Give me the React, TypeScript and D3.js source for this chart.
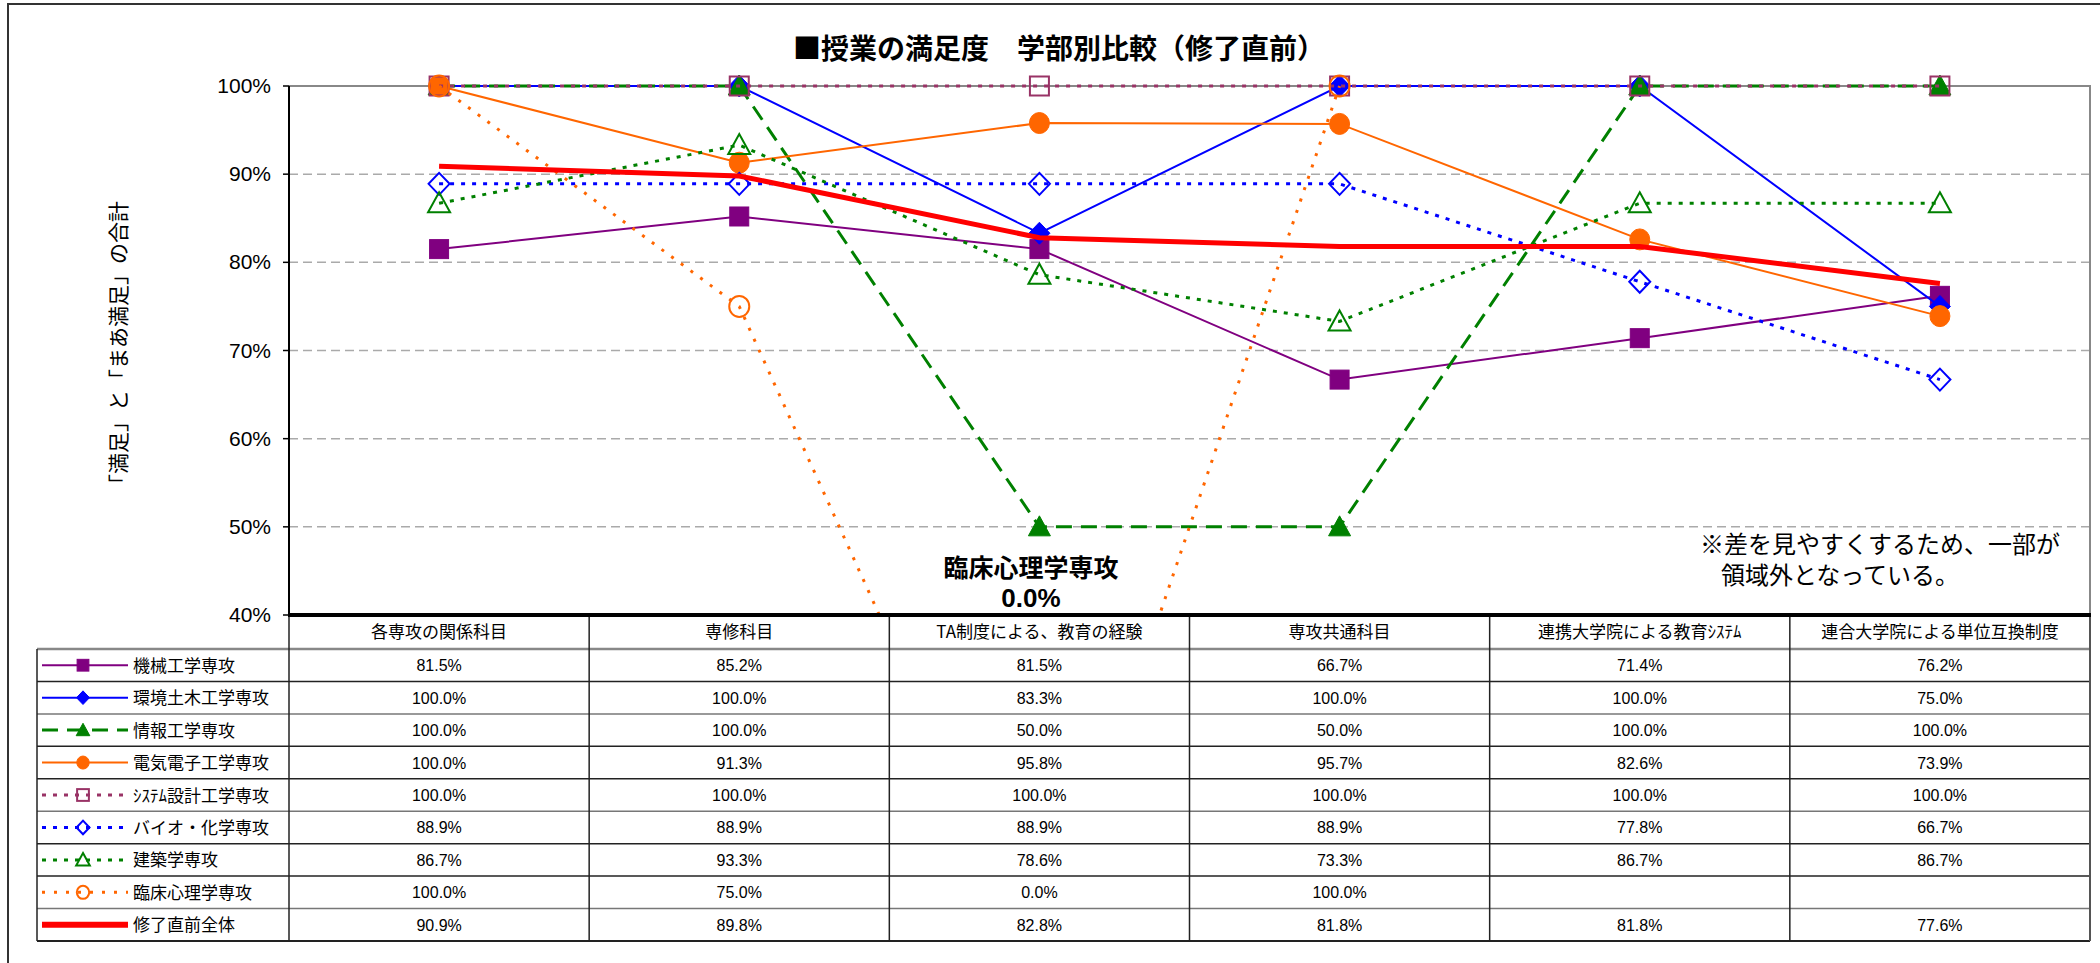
import React from 'react';
import * as d3 from 'd3';

// データ（表から読み取り）
const categories = [
  '各専攻の関係科目',
  '専修科目',
  'TA制度による、教育の経験',
  '専攻共通科目',
  '連携大学院による教育ｼｽﾃﾑ',
  '連合大学院による単位互換制度',
];
const seriesNames = [
  '機械工学専攻',
  '環境土木工学専攻',
  '情報工学専攻',
  '電気電子工学専攻',
  'ｼｽﾃﾑ設計工学専攻',
  'バイオ・化学専攻',
  '建築学専攻',
  '臨床心理学専攻',
  '修了直前全体',
];
const kikai = [81.5, 85.2, 81.5, 66.7, 71.4, 76.2];
const kankyo = [100, 100, 83.3, 100, 100, 75.0];
const joho = [100, 100, 50.0, 50.0, 100, 100];
const denki = [100, 91.3, 95.8, 95.7, 82.6, 73.9];
const system = [100, 100, 100, 100, 100, 100];
const bio = [88.9, 88.9, 88.9, 88.9, 77.8, 66.7];
const kenchiku = [86.7, 93.3, 78.6, 73.3, 86.7, 86.7];
const rinsho = [100, 75.0, 0.0, 100, null, null];
const zentai = [90.9, 89.8, 82.8, 81.8, 81.8, 77.6];
const yTicks = [0.4, 0.5, 0.6, 0.7, 0.8, 0.9, 1.0];

const seriesValues = [kikai, kankyo, joho, denki, system, bio, kenchiku, rinsho, zentai];

// 見た目の設定
const styles = [
  { color: '#800080', width: 2, dash: null, shape: 'square', filled: true },
  { color: '#0000FF', width: 2, dash: null, shape: 'diamond', filled: true },
  { color: '#008000', width: 3, dash: '16,9', shape: 'triangle', filled: true },
  { color: '#FF6600', width: 2, dash: null, shape: 'circle', filled: true },
  { color: '#993366', width: 3, dash: '4,7', shape: 'square', filled: false },
  { color: '#0000FF', width: 3, dash: '4,7', shape: 'diamond', filled: false },
  { color: '#008000', width: 3, dash: '4,7', shape: 'triangle', filled: false },
  { color: '#FF6600', width: 3, dash: '3,9', shape: 'circle', filled: false },
  { color: '#FF0000', width: 5, dash: null, shape: null, filled: false },
];

const W = 2100;
const H = 963;
const left = 289;
const right = 2090;
const top = 86;
const bottom = 615;
const legendLeft = 37;
const headerBottom = 649;
const tableBottom = 941;
const rowH = (tableBottom - headerBottom) / seriesNames.length;

const jp = "'Noto Sans CJK JP', 'Noto Sans', sans-serif";
const num = "'Liberation Sans Narrow', 'Liberation Sans', Arial, sans-serif";

const x = d3.scaleBand<string>().domain(categories).range([left, right]);
const cx = (i: number) => (x(categories[i]) as number) + x.bandwidth() / 2;
const y = d3.scaleLinear().domain([0.4, 1]).range([bottom, top]);
const fmt = d3.format('.1f');
const pct = d3.format('.0%');

function Marker({ shape, filled, color, px, py, s = 1 }: any) {
  if (!shape) return null;
  const fill = filled ? color : 'none';
  const sw = filled ? 1 : 2;
  if (shape === 'square') {
    const h = 9.5 * s;
    return <rect x={px - h} y={py - h} width={2 * h} height={2 * h} fill={fill} stroke={color} strokeWidth={sw} />;
  }
  if (shape === 'diamond') {
    const a = 10.5 * s;
    const b = 11 * s;
    return <path d={`M${px},${py - b}L${px + a},${py}L${px},${py + b}L${px - a},${py}Z`} fill={fill} stroke={color} strokeWidth={sw} />;
  }
  if (shape === 'triangle') {
    const a = 11 * s;
    return <path d={`M${px},${py - a}L${px + a},${py + 9 * s}L${px - a},${py + 9 * s}Z`} fill={fill} stroke={color} strokeWidth={sw} />;
  }
  return <ellipse cx={px} cy={py} rx={10 * s} ry={10.5 * s} fill={fill} stroke={color} strokeWidth={sw} />;
}

export default function App() {
  const line = d3
    .line<number | null>()
    .defined((d) => d != null)
    .x((_, i) => cx(i))
    .y((d) => y((d as number) / 100));

  return (
    <svg
      width={W}
      height={H}
      style={{ position: 'absolute', left: 0, top: 0, background: '#fff' }}
    >
      <defs>
        <clipPath id="plot">
          <rect x={left} y={top - 20} width={right - left + 20} height={bottom - top + 23} />
        </clipPath>
      </defs>
      <rect x={0} y={0} width={W} height={H} fill="#fff" />
      {/* 外枠 */}
      <path d={`M8,${H + 5}V4H${W + 5}`} fill="none" stroke="#333" strokeWidth={2} />

      {/* タイトル */}
      <text x={1059} y={59} textAnchor="middle" fontFamily={jp} fontWeight="bold" fontSize={28} fill="#000">
        ■授業の満足度　学部別比較（修了直前）
      </text>

      {/* グリッド線 */}
      {yTicks.filter((t) => t > 0.4 && t < 1).map((t) => (
        <line key={t} x1={left} x2={right} y1={y(t)} y2={y(t)} stroke="#aaa" strokeWidth={1.5} strokeDasharray="9,5" />
      ))}
      <path d={`M${left},${y(1)}H${right}V${bottom}`} fill="none" stroke="#888" strokeWidth={2} />
      <line x1={left} x2={left} y1={top} y2={bottom} stroke="#000" strokeWidth={2} />
      {yTicks.map((t) => (
        <g key={t}>
          <line x1={left - 6} x2={left} y1={y(t)} y2={y(t)} stroke="#000" strokeWidth={1.5} />
          <text x={271} y={y(t) + 7} textAnchor="end" fontFamily={num} fontSize={21} fill="#000">
            {pct(t)}
          </text>
        </g>
      ))}

      {/* 縦軸タイトル */}
      <text
        transform="translate(118,348) rotate(-90)"
        textAnchor="middle"
        dy={8}
        fontFamily={jp}
        fontSize={21}
        fill="#000"
      >
        「満足」と「まあ満足」の合計
      </text>

      {/* 系列 */}
      <g clipPath="url(#plot)">
        {seriesValues.map((vals, si) => {
          const st = styles[si];
          return (
            <g key={si}>
              <path
                d={line(vals) || ''}
                fill="none"
                stroke={st.color}
                strokeWidth={st.width}
                strokeDasharray={st.dash || undefined}
              />
              {vals.map((v, i) =>
                v == null ? null : (
                  <Marker key={i} shape={st.shape} filled={st.filled} color={st.color} px={cx(i)} py={y(v / 100)} />
                )
              )}
            </g>
          );
        })}
      </g>

      {/* 注記 */}
      <text x={1031} y={577} textAnchor="middle" fontFamily={jp} fontWeight="bold" fontSize={25} fill="#000">
        臨床心理学専攻
      </text>
      <text x={1031} y={607} textAnchor="middle" fontFamily="'Liberation Sans', Arial, sans-serif" fontWeight="bold" fontSize={26} fill="#000">
        0.0%
      </text>
      <text x={1700} y={553} fontFamily={jp} fontSize={24} fill="#000">
        ※差を見やすくするため、一部が
      </text>
      <text x={1721} y={584} fontFamily={jp} fontSize={24} fill="#000">
        領域外となっている。
      </text>

      {/* データテーブル */}
      <g>
        {categories.map((c, i) => (
          <text key={c} x={cx(i)} y={638} textAnchor="middle" fontFamily={jp} fontSize={17} fill="#000">
            {c}
          </text>
        ))}
        {/* 横線 */}
        <line x1={legendLeft} x2={right} y1={headerBottom} y2={headerBottom} stroke="#888" strokeWidth={2.5} />
        {seriesNames.map((_, r) => (
          <line
            key={r}
            x1={legendLeft}
            x2={right}
            y1={headerBottom + (r + 1) * rowH}
            y2={headerBottom + (r + 1) * rowH}
            stroke={r % 3 === 1 ? '#777' : '#222'}
            strokeWidth={r === seriesNames.length - 1 ? 2 : 1.5}
          />
        ))}
        {/* 縦線 */}
        <line x1={legendLeft} x2={legendLeft} y1={headerBottom} y2={tableBottom} stroke="#222" strokeWidth={1.5} />
        {categories.map((c, i) => (
          <line
            key={c}
            x1={x(c) as number}
            x2={x(c) as number}
            y1={bottom}
            y2={tableBottom}
            stroke="#222"
            strokeWidth={1.5}
          />
        ))}
        <line x1={right} x2={right} y1={bottom} y2={tableBottom} stroke="#555" strokeWidth={2} />
        <line x1={left - 1} x2={right + 1} y1={bottom} y2={bottom} stroke="#000" strokeWidth={4} />

        {seriesNames.map((name, r) => {
          const st = styles[r];
          const ry = headerBottom + r * rowH + rowH / 2;
          return (
            <g key={name}>
              <line
                x1={42}
                x2={128}
                y1={ry}
                y2={ry}
                stroke={st.color}
                strokeWidth={st.width === 5 ? 6 : st.width}
                strokeDasharray={st.dash || undefined}
              />
              <Marker shape={st.shape} filled={st.filled} color={st.color} px={83} py={ry} s={0.62} />
              <text x={133} y={ry + 6.5} fontFamily={jp} fontSize={17} fill="#000">
                {name}
              </text>
              {seriesValues[r].map((v, i) =>
                v == null ? null : (
                  <text key={i} x={cx(i)} y={ry + 6} textAnchor="middle" fontFamily={num} fontSize={16} fill="#000">
                    {fmt(v)}%
                  </text>
                )
              )}
            </g>
          );
        })}
      </g>
    </svg>
  );
}
